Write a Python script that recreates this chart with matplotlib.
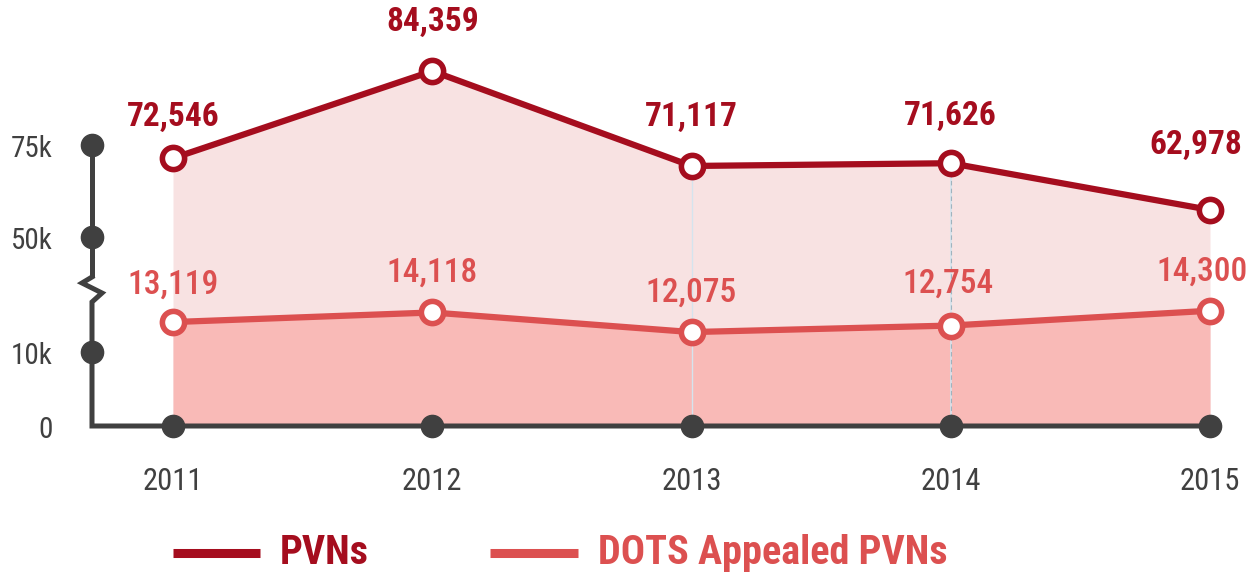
import numpy as np
import matplotlib
matplotlib.use("Agg")
import matplotlib.pyplot as plt
from matplotlib import font_manager as fm

years = [2011, 2012, 2013, 2014, 2015]
pvns = [72546, 84359, 71117, 71626, 62978]
dots = [13119, 14118, 12075, 12754, 14300]
ytick_vals = [0, 10000, 50000, 75000]
ytick_labels = ["0", "10k", "50k", "75k"]
series_names = ["PVNs", "DOTS Appealed PVNs"]

DARK_RED = "#a50d1e"
RED = "#dc5050"
FILL_TOP = "#f8e2e2"
FILL_LOW = "#f9bab7"
AXIS = "#404040"

# pick a narrow face if one is installed
_fonts = [(f.name, f.stretch) for f in fm.fontManager.ttflist]
_names = {n for n, _ in _fonts}
FONT, STRETCH, SCALE = ["Liberation Sans", "DejaVu Sans"], "normal", 0.82
for cand in ["Roboto Condensed", "Liberation Sans Narrow", "Open Sans Condensed",
             "Noto Sans Condensed"]:
    if cand in _names:
        FONT, SCALE = [cand, "DejaVu Sans"], 1.0
        break
TXT = dict(family=FONT, fontstretch=STRETCH)

# broken axis: piecewise-linear value -> pixel height above baseline
_nodes_v = [-30000, 0, 10000, 15000, 50000, 60000, 75000, 85000, 120000]
_nodes_h = [-222, 0, 74, 122, 189, 200, 281, 360, 640]


def fwd(v):
    return np.interp(v, _nodes_v, _nodes_h)


def inv(h):
    return np.interp(h, _nodes_h, _nodes_v)


W, H = 1253, 577
fig = plt.figure(figsize=(W / 100, H / 100), dpi=100)
ax = fig.add_axes([0, 0, 1, 1])
ax.set_yscale("function", functions=(fwd, inv))
step = (1210 - 173) / 4
x0 = 2011 - 173 / step
ax.set_xlim(x0, x0 + W / step)
ax.set_ylim(inv(-151), inv(H - 151))
ax.axis("off")

# areas
ax.fill_between(years, pvns, 0, color=FILL_TOP, lw=0, zorder=1)
ax.fill_between(years, dots, 0, color=FILL_LOW, lw=0, zorder=2)

# faint guide lines
ax.plot([2013, 2013], [0, pvns[2]], color="#d5e4ee", lw=1, zorder=2.5)
ax.plot([2014, 2014], [0, pvns[3]], color="#d5e4ee", lw=1.2, zorder=2.5)
ax.plot([2014, 2014], [0, pvns[3]], color="#9fb4bf", lw=0.8, ls=(0, (4, 3)), zorder=2.6)

# axes decoration
bx = 92 / W
ax.plot([bx, bx], [(H - 145) / H, (H - 277) / H], transform=ax.transAxes,
        color=AXIS, lw=3.6, solid_capstyle="butt", zorder=3)
ax.plot([bx, 82 / W, 102 / W, bx, bx, 1210 / W],
        [(H - 277) / H, (H - 283) / H, (H - 293) / H, (H - 302) / H, (H - 426) / H, (H - 426) / H],
        transform=ax.transAxes, color=AXIS, lw=3.6, solid_joinstyle="miter", zorder=3)
ax.plot([bx] * 3, ytick_vals[1:], transform=ax.get_yaxis_transform(), ls="none",
        marker="o", ms=16, color=AXIS, zorder=4)
ax.plot(years, [0] * len(years), ls="none", marker="o", ms=16, color=AXIS, zorder=4)

for v, lab in zip(ytick_vals, ytick_labels):
    ax.annotate(lab, (53 / W, v), xycoords=ax.get_yaxis_transform(),
                xytext=(0, -3), textcoords="offset points", ha="right",
                va="center", fontsize=21 * SCALE, color=AXIS, **TXT)
for yr in years:
    ax.text(yr, (H - 481) / H, str(yr), transform=ax.get_xaxis_transform(),
            ha="center", va="center", fontsize=22 * SCALE, color=AXIS, **TXT)

# lines
ax.plot(years, pvns, color=DARK_RED, lw=4.5, marker="o", ms=16, mfc="white",
        mew=4, zorder=6)
ax.plot(years, dots, color=RED, lw=4.5, marker="o", ms=16, mfc="white",
        mew=4, zorder=6)

pvn_off = [(0, 25), (0, 33), (0, 33), (0, 31), (-14, 49)]
dots_off = [(0, 21), (0, 24), (0, 23), (-3, 26), (-8, 23)]
for yr, v, (dx, dy) in zip(years, pvns, pvn_off):
    ax.annotate(f"{v:,}", (yr, v), xytext=(dx * 0.72, dy * 0.72),
                textcoords="offset points", ha="center", va="bottom",
                fontsize=24 * SCALE, fontweight="bold", color=DARK_RED, **TXT)
for yr, v, (dx, dy) in zip(years, dots, dots_off):
    ax.annotate(f"{v:,}", (yr, v), xytext=(dx * 0.72, dy * 0.72),
                textcoords="offset points", ha="center", va="bottom",
                fontsize=24 * SCALE, fontweight=500, color=RED, **TXT)

# legend
ly = (H - 553) / H
for (xa, xb, xt), name, col in zip([(173, 260, 280), (490, 578, 598)],
                                   series_names, [DARK_RED, RED]):
    ax.plot([xa / W, xb / W], [ly, ly], transform=ax.transAxes, color=col,
            lw=6.5, solid_capstyle="butt")
    ax.text(xt / W, ly, name, transform=ax.transAxes, ha="left", va="center",
            fontsize=29 * SCALE, fontweight="bold", color=col, **TXT)

fig.savefig("out.png", dpi=100)
